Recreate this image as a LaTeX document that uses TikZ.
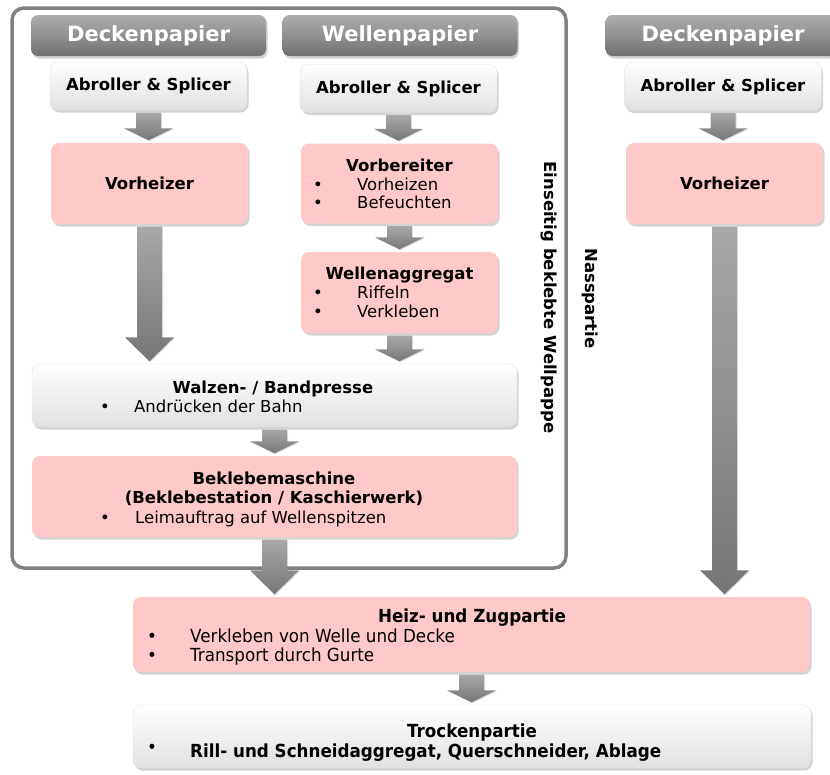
\documentclass[tikz,border=0pt]{standalone}
\usepackage{fontspec}
\setmainfont{DejaVu Sans}
\newfontfamily\condfont[FakeStretch=0.93]{DejaVu Sans}
\usetikzlibrary{calc,shadows}

\definecolor{boxpink}{RGB}{255,201,201}
\definecolor{headtop}{RGB}{174,174,174}
\definecolor{headbot}{RGB}{112,112,112}
\definecolor{arrtop}{RGB}{168,168,168}
\definecolor{arrbot}{RGB}{118,118,118}
\definecolor{framegray}{RGB}{128,128,128}

\tikzset{
  shadowed/.style={drop shadow={shadow xshift=1.5pt, shadow yshift=-2.5pt, opacity=0.35}},
  boxbase/.style={rounded corners=8pt, inner sep=0pt, shadowed},
  pinkbox/.style={boxbase, fill=boxpink},
  whitebox/.style={boxbase, top color=white, bottom color=black!12, draw=black!12, line width=0.4pt},
  header/.style={rounded corners=7pt, inner sep=0pt, top color=headtop, bottom color=headbot,
    minimum width=235pt, minimum height=41pt, text=white,
    font=\fontsize{21}{24}\selectfont\bfseries, shadowed},
  txt/.style={inner sep=0pt, font=\fontsize{16.5}{19}\selectfont},
  btxt/.style={inner sep=0pt, font=\fontsize{16.5}{19}\selectfont\bfseries},
  ctxt/.style={inner sep=0pt, font=\condfont\fontsize{18}{20}\selectfont},
  cbtxt/.style={inner sep=0pt, font=\condfont\fontsize{18}{20}\selectfont\bfseries},
  arrowshape/.style={top color=arrtop, bottom color=arrbot,
    drop shadow={shadow xshift=1pt, shadow yshift=-1pt, opacity=0.25}},
}

% block arrow from #1 down to #2, head length #3
\newcommand{\flowarrow}[3]{%
  \path[arrowshape] let \p1=(#1), \p2=(#2) in
    (\x1-12.5pt,\y1-2.5pt) -- (\x1+12.5pt,\y1-2.5pt) -- (\x1+12.5pt,\y2+2.5pt+#3pt)
    -- (\x1+24.5pt,\y2+2.5pt+#3pt) -- (\x1,\y2+2.5pt) -- (\x1-24.5pt,\y2+2.5pt+#3pt)
    -- (\x1-12.5pt,\y2+2.5pt+#3pt) -- cycle;}

\begin{document}
\begin{tikzpicture}[x=1pt,y=-1pt]
\useasboundingbox (0,0) rectangle (830,774);

% frame of the single-faced board section
\draw[framegray, line width=3.5pt, rounded corners=12pt] (12,8) rectangle (566,568);

% column headers
\node[header] (hd1) at (148.5,35.5) {Deckenpapier};
\node[header] (hd2) at (400,35.5) {Wellenpapier};
\node[header] (hd3) at (723,35.5) {Deckenpapier};

% unwinders
\node[whitebox, btxt, minimum width=197pt, minimum height=48pt] (ab1) at (148.5,86) {Abroller \& Splicer};
\node[whitebox, btxt, minimum width=197pt, minimum height=48pt] (ab2) at (398.5,88.5) {Abroller \& Splicer};
\node[whitebox, btxt, minimum width=197pt, minimum height=48pt] (ab3) at (723,86.5) {Abroller \& Splicer};

% preheaters / preconditioner
\node[pinkbox, btxt, minimum width=197pt, minimum height=81pt] (vh1) at (149.5,183.5) {Vorheizer};
\node[pinkbox, minimum width=197pt, minimum height=80pt] (vb) at (399.5,183.5) {};
\node[pinkbox, btxt, minimum width=197pt, minimum height=81pt] (vh3) at (724.5,183.5) {Vorheizer};

% single facer
\node[pinkbox, minimum width=197pt, minimum height=81pt] (wa) at (399.5,292.5) {};

% press and glue unit
\node[whitebox, minimum width=485pt, minimum height=63pt] (walz) at (274.5,395.5) {};
\node[pinkbox, minimum width=485pt, minimum height=81pt] (bekl) at (274.5,496.5) {};

% double backer and dry end
\node[pinkbox, minimum width=677pt, minimum height=75pt] (heiz) at (471.5,634.5) {};
\node[whitebox, minimum width=678pt, minimum height=63pt] (trock) at (472,736.5) {};

% arrows
\flowarrow{ab1.south}{vh1.north}{12}
\flowarrow{ab2.south}{vb.north}{12}
\flowarrow{ab3.south}{vh3.north}{12}
\flowarrow{vh1.south}{walz.north -| vh1.south}{24}
\flowarrow{vb.south}{wa.north}{12}
\flowarrow{wa.south}{walz.north -| wa.south}{12}
\flowarrow{walz.south}{bekl.north}{12}
\flowarrow{bekl.south}{heiz.north -| bekl.south}{24}
\flowarrow{vh3.south}{heiz.north -| vh3.south}{24}
\flowarrow{heiz.south}{trock.north}{12}

% box texts
\node[btxt, anchor=base] (vbt) at (399.5,171) {Vorbereiter};
\node[txt, anchor=base] (vbb1) at (318,190) {•};
\node[txt, anchor=base west] (vbi1) at (357,190) {Vorheizen};
\node[txt, anchor=base] (vbb2) at (318,208) {•};
\node[txt, anchor=base west] (vbi2) at (357,208) {Befeuchten};

\node[btxt, anchor=base] (wat) at (399.5,279) {Wellenaggregat};
\node[txt, anchor=base] (wab1) at (318,298) {•};
\node[txt, anchor=base west] (wai1) at (357,298) {Riffeln};
\node[txt, anchor=base] (wab2) at (318,317) {•};
\node[txt, anchor=base west] (wai2) at (357,317) {Verkleben};

\node[btxt, anchor=base] (walzt) at (273,393) {Walzen- / Bandpresse};
\node[txt, anchor=base] (walzb) at (105,412) {•};
\node[txt, anchor=base west] (walzi) at (134,412) {Andrücken der Bahn};

\node[btxt, anchor=base] (beklt1) at (274,484) {Beklebemaschine};
\node[btxt, anchor=base] (beklt2) at (274,503) {(Beklebestation / Kaschierwerk)};
\node[txt, anchor=base] (beklb) at (105,523) {•};
\node[txt, anchor=base west] (bekli) at (135,523) {Leimauftrag auf Wellenspitzen};

\node[cbtxt, anchor=base] (heizt) at (472,622) {Heiz- und Zugpartie};
\node[ctxt, anchor=base] (heizb1) at (152,642) {•};
\node[ctxt, anchor=base west] (heizi1) at (190,642) {Verkleben von Welle und Decke};
\node[ctxt, anchor=base] (heizb2) at (152,661) {•};
\node[ctxt, anchor=base west] (heizi2) at (190,661) {Transport durch Gurte};

\node[cbtxt, anchor=base] (trockt) at (472,737) {Trockenpartie};
\node[ctxt, anchor=base] (trockb) at (152,753) {•};
\node[cbtxt, anchor=base west] (trocki) at (190,757) {Rill- und Schneidaggregat, Querschneider, Ablage};

% side labels
\node[btxt, rotate=-90, anchor=base] (ewp) at (544,297.5) {Einseitig beklebte Wellpappe};
\node[btxt, rotate=-90, anchor=base] (nass) at (585,298.5) {Nasspartie};
\end{tikzpicture}
\end{document}
